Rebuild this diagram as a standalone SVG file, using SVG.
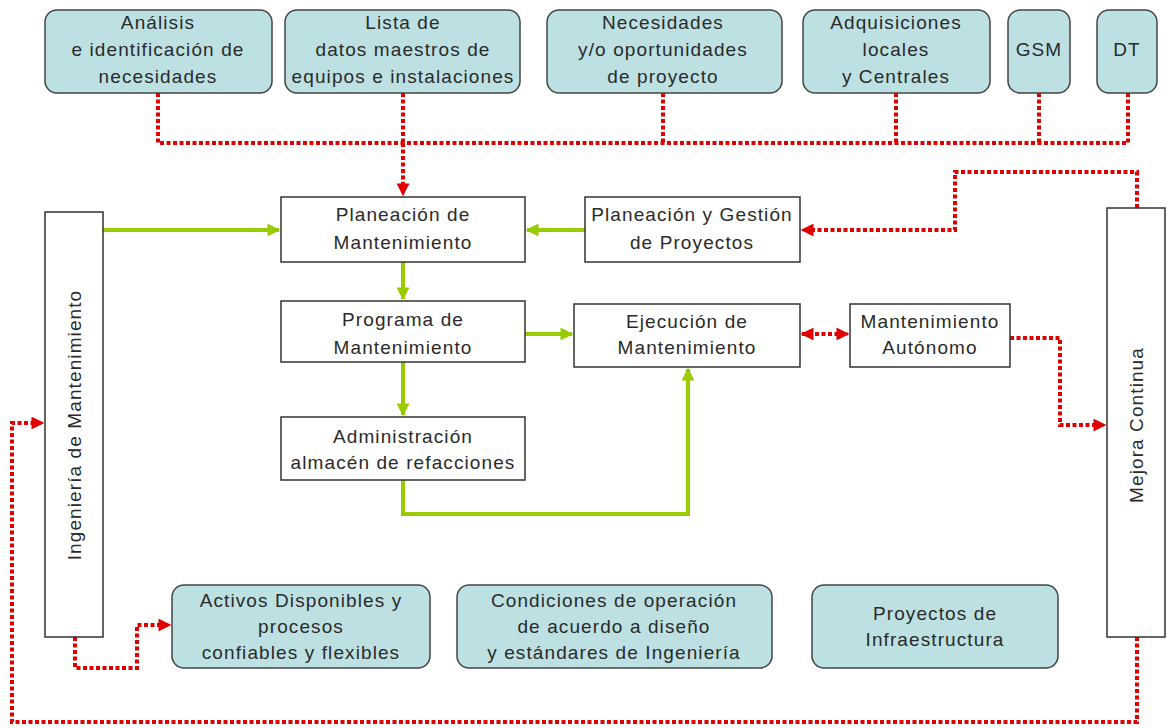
<svg xmlns="http://www.w3.org/2000/svg" width="1167" height="728" viewBox="0 0 1167 728">
<defs>
<style>
.t{font-family:"Liberation Sans",Arial,sans-serif;font-size:19px;letter-spacing:1.1px;fill:#2a2a2a;text-anchor:middle}
.rb{fill:#BDE0E3;stroke:#444;stroke-width:1.5}
.wb{fill:#fff;stroke:#333;stroke-width:1.5}
.red{fill:none;stroke:#E00000;stroke-width:4;stroke-dasharray:4 2.5}
.grn{fill:none;stroke:#99CC00;stroke-width:4}
</style>
<marker id="ar" viewBox="0 0 10 10" refX="9" refY="5" markerWidth="3.2" markerHeight="3.2" orient="auto-start-reverse" markerUnits="strokeWidth"><path d="M0,0L10,5L0,10z" fill="#E00000"/></marker>
<marker id="ag" viewBox="0 0 10 10" refX="9" refY="5" markerWidth="3.2" markerHeight="3.2" orient="auto" markerUnits="strokeWidth"><path d="M0,0L10,5L0,10z" fill="#99CC00"/></marker>
</defs>
<rect width="1167" height="728" fill="#fff"/>
<g id="connectors">
<path class="red" d="M158,93V143H1128V93M403,93V143M663,93V143M896,93V143M1039,93V143"/>
<path class="red" d="M403,143V195" marker-end="url(#ar)"/>
<path class="red" d="M1137,208V172H955V230H802" marker-end="url(#ar)"/>
<path class="red" d="M802,334H848" marker-start="url(#ar)" marker-end="url(#ar)"/>
<path class="red" d="M1010,338H1060V425H1105" marker-end="url(#ar)"/>
<path class="red" d="M1137,637V722H12V423H43" marker-end="url(#ar)"/>
<path class="red" d="M75,637V668H137V625H170" marker-end="url(#ar)"/>
<path class="grn" d="M103,230H279" marker-end="url(#ag)"/>
<path class="grn" d="M585,230H527" marker-end="url(#ag)"/>
<path class="grn" d="M403,262V299" marker-end="url(#ag)"/>
<path class="grn" d="M525,334H572" marker-end="url(#ag)"/>
<path class="grn" d="M403,362V415" marker-end="url(#ag)"/>
<path class="grn" d="M403,480V514H688V369" marker-end="url(#ag)"/>
</g>
<g id="n1"><rect class="rb" x="45" y="10" width="227" height="83" rx="12"/><text class="t" x="158" y="29">Análisis</text><text class="t" x="158" y="56">e identificación de</text><text class="t" x="158" y="83">necesidades</text></g>
<g id="n2"><rect class="rb" x="285" y="10" width="235" height="83" rx="12"/><text class="t" x="403" y="29">Lista de</text><text class="t" x="403" y="56">datos maestros de</text><text class="t" x="403" y="83">equipos e instalaciones</text></g>
<g id="n3"><rect class="rb" x="547" y="10" width="235" height="83" rx="12"/><text class="t" x="663" y="29">Necesidades</text><text class="t" x="663" y="56">y/o oportunidades</text><text class="t" x="663" y="83">de proyecto</text></g>
<g id="n4"><rect class="rb" x="803" y="10" width="187" height="83" rx="12"/><text class="t" x="896" y="29">Adquisiciones</text><text class="t" x="896" y="56">locales</text><text class="t" x="896" y="83">y Centrales</text></g>
<g id="n5"><rect class="rb" x="1008" y="10" width="62" height="83" rx="12"/><text class="t" x="1039" y="56">GSM</text></g>
<g id="n6"><rect class="rb" x="1097" y="10" width="60" height="83" rx="12"/><text class="t" x="1127" y="56">DT</text></g>
<g id="n7"><rect class="wb" x="281" y="197" width="244" height="65"/><text class="t" x="403" y="221">Planeación de</text><text class="t" x="403" y="249">Mantenimiento</text></g>
<g id="n8"><rect class="wb" x="585" y="197" width="215" height="65"/><text class="t" x="692" y="221">Planeación y Gestión</text><text class="t" x="692" y="249">de Proyectos</text></g>
<g id="n9"><rect class="wb" x="281" y="301" width="244" height="61"/><text class="t" x="403" y="326">Programa de</text><text class="t" x="403" y="354">Mantenimiento</text></g>
<g id="n10"><rect class="wb" x="574" y="304" width="226" height="63"/><text class="t" x="687" y="328">Ejecución de</text><text class="t" x="687" y="354">Mantenimiento</text></g>
<g id="n11"><rect class="wb" x="850" y="304" width="160" height="63"/><text class="t" x="930" y="328">Mantenimiento</text><text class="t" x="930" y="354">Autónomo</text></g>
<g id="n12"><rect class="wb" x="281" y="417" width="244" height="63"/><text class="t" x="403" y="443">Administración</text><text class="t" x="403" y="469">almacén de refacciones</text></g>
<g id="n13"><rect class="wb" x="45" y="212" width="58" height="425"/><text class="t" transform="translate(81,425) rotate(-90)">Ingeniería de Mantenimiento</text></g>
<g id="n14"><rect class="wb" x="1107" y="208" width="58" height="429"/><text class="t" transform="translate(1143,425) rotate(-90)">Mejora Continua</text></g>
<g id="n15"><rect class="rb" x="172" y="585" width="258" height="83" rx="12"/><text class="t" x="301" y="607">Activos Disponibles y</text><text class="t" x="301" y="633">procesos</text><text class="t" x="301" y="659">confiables y flexibles</text></g>
<g id="n16"><rect class="rb" x="457" y="585" width="315" height="83" rx="12"/><text class="t" x="614" y="607">Condiciones de operación</text><text class="t" x="614" y="633">de acuerdo a diseño</text><text class="t" x="614" y="659">y estándares de Ingeniería</text></g>
<g id="n17"><rect class="rb" x="812" y="585" width="246" height="83" rx="12"/><text class="t" x="935" y="620">Proyectos de</text><text class="t" x="935" y="646">Infraestructura</text></g>
</svg>
